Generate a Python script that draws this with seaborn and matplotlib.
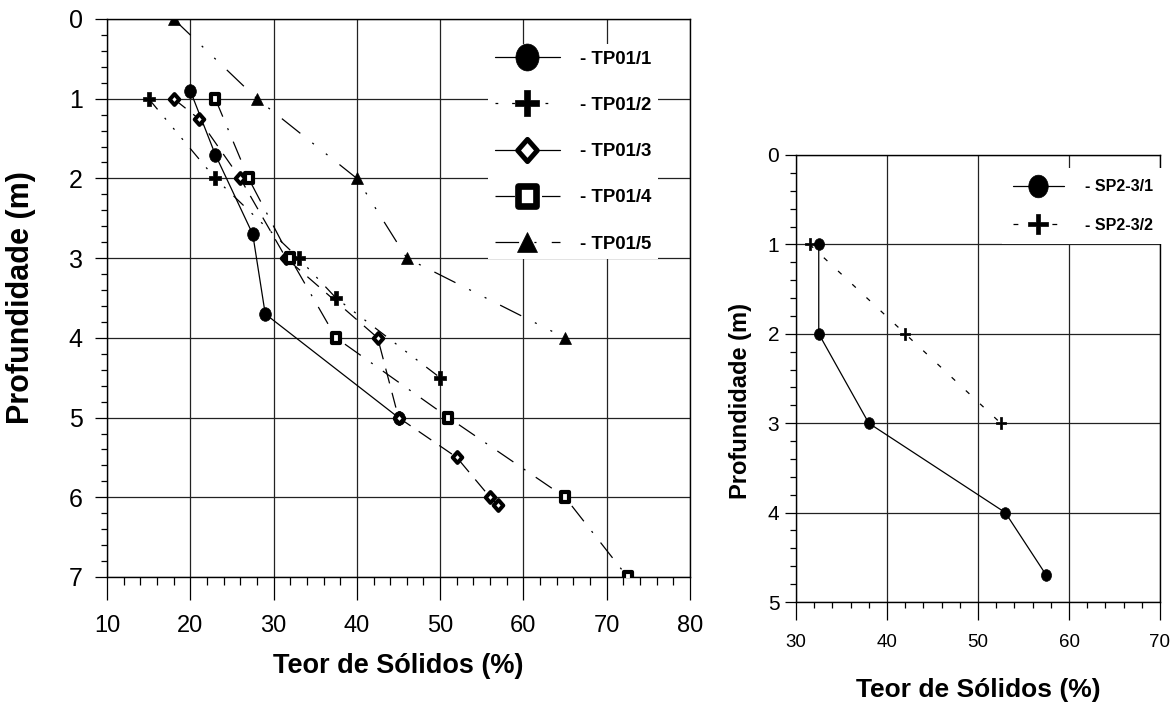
import numpy as np
import pandas as pd
import matplotlib
matplotlib.use("Agg")
import matplotlib.pyplot as plt
import seaborn as sns
from matplotlib.path import Path
from matplotlib.lines import Line2D
from matplotlib.ticker import MultipleLocator

# ---------------- data ----------------
tp1_solids = [20, 23, 27.5, 29, 45]
tp1_depth = [0.9, 1.7, 2.7, 3.7, 5.0]
tp2_solids = [15, 23, 33, 37.5, 50]
tp2_depth = [1, 2, 3, 3.5, 4.5]
tp3_solids = [18, 21, 26, 31.5, 42.5, 45, 52, 56, 57]
tp3_depth = [1, 1.25, 2, 3, 4, 5, 5.5, 6, 6.1]
tp4_solids = [23, 27, 32, 37.5, 51, 65, 72.5]
tp4_depth = [1, 2, 3, 4, 5, 6, 7]
tp5_solids = [18, 28, 40, 46, 65]
tp5_depth = [0, 1, 2, 3, 4]

sp1_solids = [32.5, 32.5, 38, 53, 57.5]
sp1_depth = [1, 2, 3, 4, 4.7]
sp2_solids = [31.5, 42, 52.5]
sp2_depth = [1, 2, 3]

left_names = ["- TP01/1", "- TP01/2", "- TP01/3", "- TP01/4", "- TP01/5"]
right_names = ["- SP2-3/1", "- SP2-3/2"]
left_xticks = [10, 20, 30, 40, 50, 60, 70, 80]
left_yticks = [0, 1, 2, 3, 4, 5, 6, 7]
right_xticks = [30, 40, 50, 60, 70]
right_yticks = [0, 1, 2, 3, 4, 5]
xlabel_text = "Teor de Sólidos (%)"
ylabel_text = "Profundidade (m)"

# ---------------- style ----------------
sns.set_theme(style="ticks")
plt.rcParams["font.family"] = ["Liberation Sans", "DejaVu Sans"]
plt.rcParams["lines.scale_dashes"] = False
plt.rcParams["text.color"] = "black"
plt.rcParams["axes.labelcolor"] = "black"
plt.rcParams["xtick.color"] = "black"
plt.rcParams["ytick.color"] = "black"
NARROW = ["Liberation Sans Narrow", "Liberation Sans", "DejaVu Sans"]
BOLD = ["Liberation Sans", "DejaVu Sans"]

# custom marker shapes (slightly taller than wide, as in the reference)
ellipse = Path(Path.unit_circle().vertices * np.array([0.86, 1.0]), Path.unit_circle().codes)

def plus_path(t):
    v = [(-0.92, -t), (-t, -t), (-t, -1), (t, -1), (t, -t), (0.92, -t), (0.92, t),
         (t, t), (t, 1), (-t, 1), (-t, t), (-0.92, t), (-0.92, -t)]
    return Path(v, closed=True)

plus = plus_path(0.26)
diamond = Path([(0, 1), (0.88, 0), (0, -1), (-0.88, 0), (0, 1)], closed=True)
square = Path([(-0.88, -1), (0.88, -1), (0.88, 1), (-0.88, 1), (-0.88, -1)], closed=True)

ls1 = "-"
ls2 = (0, (10, 8, 1.5, 8, 1.5, 8, 1.5, 8))
ls3 = (0, (11, 7))
ls4 = (0, (14, 9, 1.5, 9))
ls5 = (0, (17, 11, 1.5, 11, 1.5, 11))
ls_sp2 = (0, (3.5, 10.5))

fig = plt.figure(figsize=(11.76, 7.08), dpi=100)
axL = fig.add_axes([107 / 1176, 1 - 577 / 708, 583 / 1176, 558 / 708])
axR = fig.add_axes([796 / 1176, 1 - 602 / 708, 364 / 1176, 447 / 708])

left_series = [
    (tp1_solids, tp1_depth, ellipse, 9.8, "black", 0.5, ls1),
    (tp2_solids, tp2_depth, plus, 10.0, "black", 0.5, ls2),
    (tp3_solids, tp3_depth, diamond, 7.8, "white", 2.9, ls3),
    (tp4_solids, tp4_depth, square, 6.9, "white", 3.0, ls4),
    (tp5_solids, tp5_depth, "^", 8.8, "black", 0.5, ls5),
]
for xs, ys, mk, ms, fc, mew, ls in left_series:
    df = pd.DataFrame({"x": xs, "y": ys})
    sns.lineplot(data=df, x="x", y="y", sort=False, estimator=None, ax=axL,
                 color="black", linewidth=0.9, linestyle=ls, marker=mk,
                 markersize=ms, markerfacecolor=fc, markeredgecolor="black",
                 markeredgewidth=mew, legend=False, zorder=3)

right_series = [
    (sp1_solids, sp1_depth, ellipse, 8.4, "black", 0.5, ls1),
    (sp2_solids, sp2_depth, plus_path(0.24), 8.2, "black", 0.5, ls_sp2),
]
for xs, ys, mk, ms, fc, mew, ls in right_series:
    df = pd.DataFrame({"x": xs, "y": ys})
    sns.lineplot(data=df, x="x", y="y", sort=False, estimator=None, ax=axR,
                 color="black", linewidth=0.9, linestyle=ls, marker=mk,
                 markersize=ms, markerfacecolor=fc, markeredgecolor="black",
                 markeredgewidth=mew, legend=False, zorder=3)

def style_axis(ax, xticks, yticks, xmaj_len, xmin_len, ymaj_len, ymin_len,
               xsize, ysize, xpad, ypad):
    ax.set_xlim(xticks[0], xticks[-1])
    ax.set_ylim(yticks[-1], yticks[0])
    ax.set_xticks(xticks)
    ax.set_yticks(yticks)
    ax.xaxis.set_minor_locator(MultipleLocator(2))
    ax.yaxis.set_minor_locator(MultipleLocator(0.2))
    ax.grid(True, which="major", color="#222222", linewidth=0.9, zorder=0)
    ax.set_axisbelow(True)
    for s in ax.spines.values():
        s.set_color("black")
        s.set_linewidth(1.0)
        s.set_visible(True)
    ax.tick_params(axis="x", which="major", direction="out", length=xmaj_len,
                   width=0.9, color="black", labelsize=xsize, pad=xpad,
                   labelfontfamily=NARROW, labelcolor="black")
    ax.tick_params(axis="x", which="minor", direction="out", length=xmin_len,
                   width=0.9, color="black")
    ax.tick_params(axis="y", which="major", direction="out", length=ymaj_len,
                   width=0.9, color="black", labelsize=ysize, pad=ypad,
                   labelcolor="black")
    ax.tick_params(axis="y", which="minor", direction="out", length=ymin_len,
                   width=0.9, color="black")
    ax.set_facecolor("white")

style_axis(axL, left_xticks, left_yticks, 16.5, 5.8, 8.6, 4.3, 17, 18, 10.5, 9)
style_axis(axR, right_xticks, right_yticks, 13, 4.3, 8, 4.3, 13.5, 15, 10, 4)

axL.set_xlabel(xlabel_text, fontsize=19.5, fontweight="bold", family=BOLD)
axL.set_ylabel(ylabel_text, fontsize=22, fontweight="bold", family=BOLD)
axL.xaxis.set_label_coords(0.5, -0.137)
axL.yaxis.set_label_coords(-0.122, 0.5)

axR.set_xlabel(xlabel_text, fontsize=19, fontweight="bold", family=BOLD)
axR.set_ylabel(ylabel_text, fontsize=17, fontweight="bold", family=BOLD)
axR.xaxis.set_label_coords(0.5, -0.17)
axR.yaxis.set_label_coords(-0.122, 0.45)

# ---------------- legends ----------------
left_handles = [
    Line2D([], [], color="black", lw=0.9, ls=ls1, marker=ellipse, ms=19.4,
           mfc="black", mec="black", mew=0.5),
    Line2D([], [], color="black", lw=0.9, ls=(0, (2, 10)), marker=plus, ms=19.0,
           mfc="black", mec="black", mew=0.5),
    Line2D([], [], color="black", lw=0.9, ls=ls1, marker=diamond, ms=16.0,
           mfc="white", mec="black", mew=3.6),
    Line2D([], [], color="black", lw=0.9, ls=(0, (14, 9, 1.5, 9)), marker=square, ms=14.5,
           mfc="white", mec="black", mew=4.8),
    Line2D([], [], color="black", lw=0.9, ls=(0, (17, 11, 1.5, 11)), marker="^", ms=15.0,
           mfc="black", mec="black", mew=0.5),
]
legL = axL.legend(left_handles, left_names, loc="upper left",
                  bbox_to_anchor=(0.6535, 0.955), borderaxespad=0,
                  frameon=True, fancybox=False, framealpha=1, facecolor="white",
                  edgecolor="none", handlelength=3.5, handletextpad=1.1,
                  labelspacing=1.57, borderpad=0.35,
                  prop={"family": BOLD, "weight": "bold", "size": 13.4})
legL.set_zorder(5)

right_handles = [
    Line2D([], [], color="black", lw=0.9, ls=ls1, marker=ellipse, ms=16.3,
           mfc="black", mec="black", mew=0.5),
    Line2D([], [], color="black", lw=0.9, ls=ls_sp2, marker=plus_path(0.24), ms=15.0,
           mfc="black", mec="black", mew=0.5),
]
legR = axR.legend(right_handles, right_names, loc="upper left",
                  bbox_to_anchor=(0.565, 0.971), borderaxespad=0,
                  frameon=True, fancybox=False, framealpha=1, facecolor="white",
                  edgecolor="none", handlelength=3.2, handletextpad=1.3,
                  labelspacing=1.48, borderpad=0.7,
                  prop={"family": BOLD, "weight": "bold", "size": 11.5})
legR.set_zorder(5)

fig.savefig("out.png", dpi=100, facecolor="white")
